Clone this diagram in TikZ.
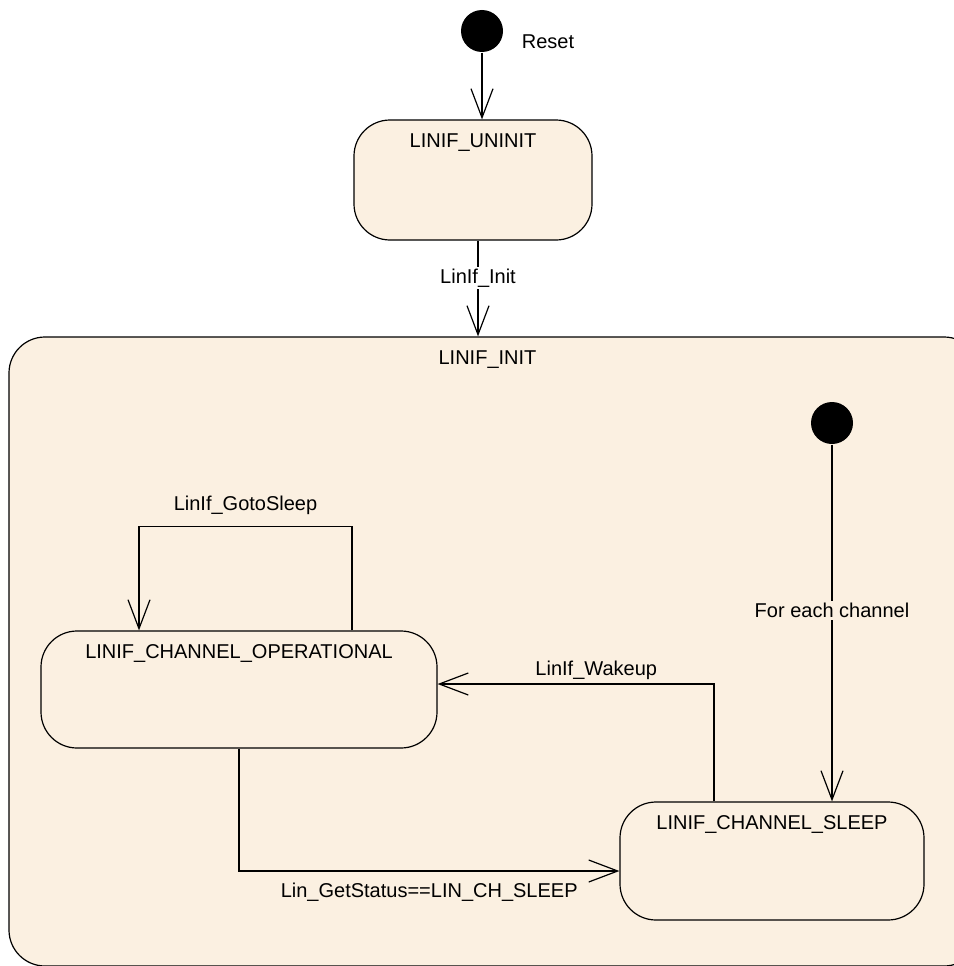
\documentclass[tikz,border=0pt]{standalone}
\usepackage{fontspec}
\setmainfont{Liberation Sans}
\usetikzlibrary{arrows.meta}
\usetikzlibrary{positioning}
\definecolor{sfill}{RGB}{251,240,225}
\tikzset{state/.style = {draw, fill=sfill, rounded corners=36, inner sep=0}}
\tikzset{startdot/.style = {fill=black, circle, inner sep=0, minimum size=42}}
\tikzset{trans/.style = {draw, -{Straight Barb[length=29pt, width=22pt]}}}

\begin{document}
\begin{tikzpicture}[x=1pt, y=-1pt, font=\fontsize{20}{24}\selectfont, line width=1.2pt]
    \useasboundingbox (0,0) rectangle (953,966);

    \node [state, rounded corners=36, minimum width=971, minimum height=629,
           label={[anchor=base, xshift=-7pt, yshift=-28pt]north:LINIF\_INIT}] (init) at (494.5,651.5) {};

    \node [startdot] (reset) at (482,31) {};
    \node (resetlbl) at (548,42) {Reset};

    \node [state, minimum width=238, minimum height=120,
           label={[anchor=base, yshift=-28pt]north:LINIF\_UNINIT}] (uninit) at (473,180) {};
    \node [startdot] (start) at (832,423) {};
    \node [state, minimum width=396, minimum height=117,
           label={[anchor=base, yshift=-28pt]north:LINIF\_CHANNEL\_OPERATIONAL}] (oper) at (239,689.5) {};
    \node [state, minimum width=304, minimum height=118,
           label={[anchor=base, yshift=-28pt]north:LINIF\_CHANNEL\_SLEEP}] (sleep) at (772,861) {};

    \draw [trans] (reset) -- (reset |- uninit.north);
    \draw [trans] ([xshift=5pt]uninit.south) -- node [fill=white, inner sep=2pt, pos=0.39] {LinIf\_Init} ([xshift=5pt]uninit.south |- init.north);
    \draw [trans] (start) -- node [fill=sfill, inner sep=2pt, pos=0.464] {For each channel} (start |- sleep.north);

    \draw [trans] ([xshift=113pt]oper.north) -- ++(0,-104) -- node [above=8pt] {LinIf\_GotoSleep} ++(-213,0) -- ([xshift=-100pt]oper.north);
    \draw [trans] ([xshift=-58pt]sleep.north) |- node [above, pos=0.713] {LinIf\_Wakeup} ([yshift=5.5pt]oper.east);
    \draw [trans] (oper.south) |- node [below=8pt, pos=0.75] {Lin\_GetStatus==LIN\_CH\_SLEEP} ([yshift=-10pt]sleep.west);
  \end{tikzpicture}
\end{document}
